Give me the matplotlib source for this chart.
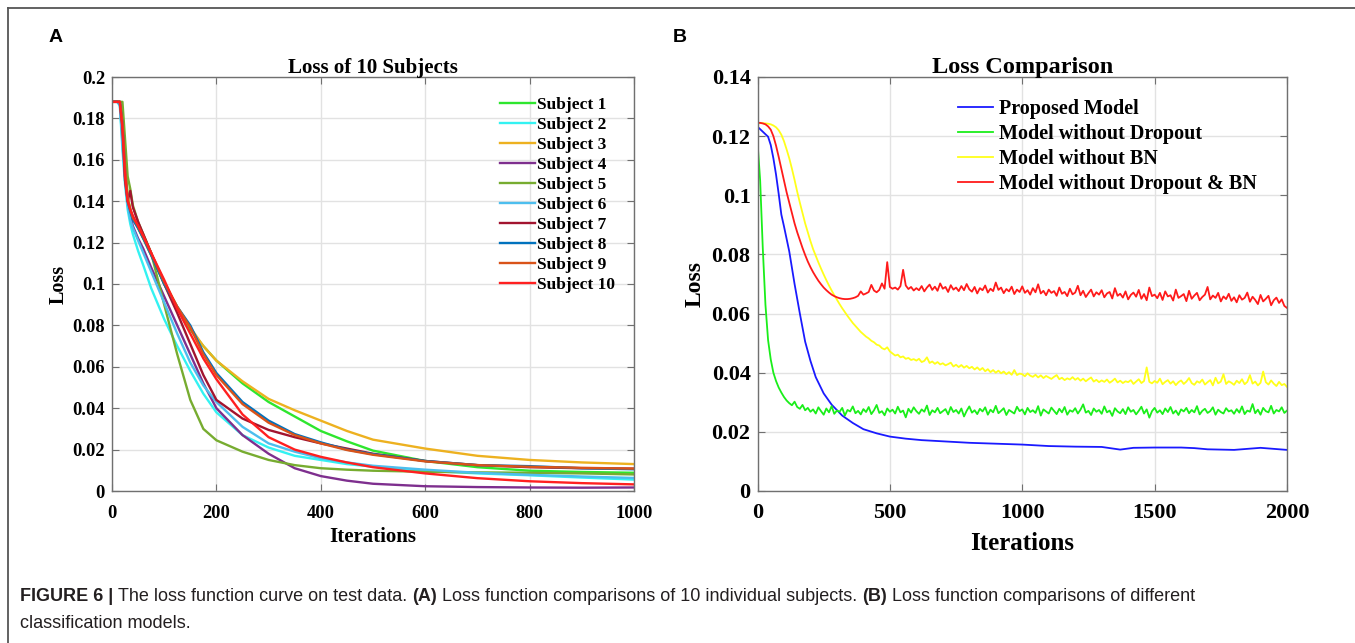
import numpy as np
import matplotlib
matplotlib.use("Agg")
import matplotlib.pyplot as plt
from matplotlib.lines import Line2D

# ---------------- panel A: loss of 10 subjects (values in 1e-4) ----------------
iters_a = [0, 10, 15, 20, 25, 30, 35, 40, 50, 60, 75, 100, 125, 150, 175, 200,
           250, 300, 350, 400, 450, 500, 600, 700, 800, 900, 1000]
subject_names = ["Subject 1", "Subject 2", "Subject 3", "Subject 4", "Subject 5",
                 "Subject 6", "Subject 7", "Subject 8", "Subject 9", "Subject 10"]
subject_losses = [
    [1880, 1880, 1880, 1800, 1600, 1420, 1360, 1320, 1270, 1220, 1140, 1000, 880, 780, 700, 630,
     520, 430, 360, 290, 240, 195, 145, 115, 98, 92, 88],
    [1880, 1880, 1860, 1650, 1480, 1360, 1290, 1240, 1160, 1090, 980, 830, 700, 580, 470, 380,
     270, 210, 170, 150, 130, 118, 98, 85, 76, 65, 55],
    [1880, 1880, 1880, 1780, 1580, 1420, 1360, 1320, 1270, 1220, 1140, 1010, 890, 790, 700, 630,
     530, 445, 390, 340, 290, 248, 205, 170, 150, 138, 130],
    [1880, 1880, 1870, 1720, 1520, 1400, 1330, 1280, 1220, 1170, 1080, 940, 800, 660, 520, 400,
     270, 180, 110, 72, 50, 35, 23, 19, 17, 16, 17],
    [1880, 1880, 1880, 1880, 1700, 1520, 1460, 1380, 1300, 1240, 1150, 900, 660, 440, 300, 245,
     190, 150, 125, 110, 103, 98, 93, 90, 88, 85, 80],
    [1880, 1880, 1870, 1680, 1500, 1380, 1310, 1270, 1210, 1150, 1060, 910, 760, 620, 510, 430,
     310, 230, 190, 158, 138, 122, 103, 88, 78, 70, 63],
    [1880, 1880, 1880, 1760, 1500, 1400, 1450, 1370, 1300, 1240, 1150, 1000, 860, 710, 560, 440,
     350, 295, 260, 230, 205, 180, 145, 125, 115, 110, 108],
    [1880, 1880, 1880, 1780, 1550, 1400, 1350, 1310, 1270, 1220, 1140, 1000, 890, 800, 670, 570,
     430, 340, 275, 235, 200, 178, 145, 125, 120, 110, 105],
    [1880, 1880, 1880, 1780, 1560, 1410, 1360, 1320, 1280, 1230, 1150, 1010, 890, 790, 660, 560,
     420, 330, 270, 230, 198, 175, 143, 125, 117, 112, 108],
    [1880, 1880, 1880, 1750, 1520, 1400, 1360, 1330, 1280, 1230, 1150, 1020, 880, 760, 640, 540,
     370, 260, 200, 165, 138, 115, 85, 62, 47, 38, 32],
]
yticks_a = [0, 0.02, 0.04, 0.06, 0.08, 0.1, 0.12, 0.14, 0.16, 0.18, 0.2]
ylabels_a = ["0", "0.02", "0.04", "0.06", "0.08", "0.1", "0.12", "0.14", "0.16", "0.18", "0.2"]
xticks_a = [0, 200, 400, 600, 800, 1000]

# ---------------- panel B: loss comparison (values in 1e-4) ----------------
iters_b = list(range(0, 2001, 10))
blue_iters = [0, 20, 40, 50, 60, 70, 80, 90, 100, 120,
              140, 160, 180, 200, 220, 250, 280, 320, 360, 400,
              450, 500, 560, 620, 700, 800, 900, 1000, 1100, 1200,
              1300, 1370, 1420, 1500, 1600, 1650, 1700, 1800, 1900, 2000]
proposed = [1232, 1215, 1198, 1170, 1125, 1070, 1005, 935, 895, 810,
            700, 600, 505, 440, 385, 330, 292, 255, 230, 209,
            195, 184, 177, 172, 168, 163, 160, 157, 152, 150,
            149, 140, 146, 147, 147, 145, 141, 139, 146, 139]
no_dropout = [
    1180, 1050, 820, 630, 510, 445, 400, 372, 350, 333, 318, 306, 297, 290, 302, 284, 278, 291, 273, 281, 268,
    276, 262, 283, 270, 258, 279, 266, 287, 261, 272, 268, 281, 255, 274, 269, 286, 263, 271, 259, 277,
    267, 284, 260, 273, 291, 264, 270, 256, 279, 268, 275, 262, 285, 266, 272, 249, 278, 265, 283, 270,
    261, 276, 268, 289, 257, 273, 266, 281, 263, 270, 277, 259, 284, 267, 274, 262, 279, 252, 271, 286,
    265, 273, 260, 278, 269, 283, 258, 275, 266, 288, 263, 271, 280, 257, 274, 268, 262, 285, 270, 276,
    259, 281, 267, 273, 264, 287, 255, 276, 269, 262, 282, 271, 260, 278, 266, 284, 258, 273, 268, 280,
    262, 275, 293, 265, 271, 257, 279, 268, 274, 261, 286, 266, 272, 254, 280, 269, 263, 277, 260, 283,
    268, 274, 259, 271, 285, 262, 276, 248, 270, 281, 265, 273, 260, 279, 267, 284, 262, 272, 257, 276,
    269, 281, 263, 274, 266, 287, 259, 271, 278, 264, 270, 283, 258, 275, 267, 262, 280, 269, 273, 261,
    277, 265, 286, 260, 272, 268, 294, 263, 275, 258, 281, 270, 266, 288, 262, 274, 269, 283, 264, 272,
]
no_bn = [
    1243, 1244, 1244, 1243, 1242, 1240, 1236, 1230, 1220, 1205,
    1183, 1155, 1125, 1090, 1052, 1012, 975, 940, 905, 875,
    845, 818, 795, 773, 752, 732, 713, 695, 678, 662,
    647, 632, 618, 605, 592, 580, 568, 558, 548, 538,
    530, 522, 516, 508, 503, 495, 492, 483, 479, 486,
    472, 465, 458, 461, 452, 455, 447, 450, 443, 446,
    441, 447, 436, 440, 452, 433, 438, 430, 436, 428,
    432, 425, 429, 434, 421, 427, 419, 426, 417, 423,
    415, 420, 411, 418, 409, 416, 405, 412, 402, 409,
    400, 407, 398, 404, 395, 402, 393, 409, 392, 397,
    395, 388, 398, 390, 386, 393, 384, 391, 382, 389,
    384, 379, 386, 392, 378, 383, 375, 381, 377, 385,
    376, 382, 373, 380, 371, 378, 384, 370, 376, 368,
    374, 369, 377, 366, 372, 380, 367, 373, 365, 371,
    368, 375, 362, 370, 378, 365, 372, 418, 369, 364,
    372, 366, 380, 361, 369, 375, 363, 371, 358, 368,
    374, 362, 370, 382, 365, 359, 371, 366, 377, 360,
    368, 375, 357, 383, 364, 370, 395, 362, 371, 366,
    359, 373, 365, 378, 361, 369, 392, 363, 370, 357,
    366, 404, 368, 360, 374, 363, 355, 369, 358, 362,
    352,
]
no_dropout_bn = [
    1245, 1245, 1243, 1240, 1233, 1222, 1200, 1168, 1130, 1090,
    1050, 1010, 975, 940, 905, 875, 848, 822, 798, 776,
    757, 740, 725, 711, 699, 688, 679, 671, 664, 659,
    655, 652, 650, 649, 649, 650, 652, 655, 660, 675,
    664, 668, 673, 697, 678, 672, 680, 702, 684, 774,
    690, 684, 688, 681, 693, 748, 695, 683, 690, 678,
    686, 679, 693, 675, 688, 698, 680, 691, 677, 702,
    684, 690, 673, 696, 681, 688, 676, 693, 679, 700,
    682, 674, 690, 668, 686, 679, 695, 671, 684, 676,
    705, 680, 688, 669, 683, 675, 691, 666, 681, 673,
    692, 670, 679, 664, 686, 672, 699, 668, 677, 662,
    681, 670, 676, 660, 688, 667, 673, 659, 684, 665,
    671, 694, 662, 677, 656, 669, 681, 658, 672, 664,
    679, 655, 668, 673, 651, 686, 660, 667, 654, 675,
    648, 663, 671, 657, 680, 650, 666, 645, 688, 659,
    664, 652, 670, 646, 675, 658, 662, 644, 681, 653,
    659, 666, 642, 677, 650, 661, 670, 645, 656, 664,
    690, 648, 661, 653, 670, 641, 658, 649, 667, 643,
    655, 638, 662, 647, 653, 671, 640, 657, 646, 632,
    663, 641, 650, 660, 628, 645, 654, 636, 648, 626,
    619,
]
model_names = ["Proposed Model", "Model without Dropout", "Model without BN",
               "Model without Dropout & BN"]
yticks_b = [0, 0.02, 0.04, 0.06, 0.08, 0.1, 0.12, 0.14]
ylabels_b = ["0", "0.02", "0.04", "0.06", "0.08", "0.1", "0.12", "0.14"]
xticks_b = [0, 500, 1000, 1500, 2000]

caption_1 = [("FIGURE 6 |", "bold"), ("The loss function curve on test data.", "normal"),
             ("(A)", "bold"), ("Loss function comparisons of 10 individual subjects.", "normal"),
             ("(B)", "bold"), ("Loss function comparisons of different", "normal")]
caption_2 = [("classification models.", "normal")]

# ---------------- styling ----------------
subject_colors = ["#2ee62e", "#33f2f2", "#edb120", "#7e2f8e", "#77ac30",
                  "#4dbeee", "#a2142f", "#0072bd", "#d95319", "#ff2020"]
model_colors = ["#1a1aff", "#1aee1a", "#ffff1a", "#ff1a1a"]

plt.rcParams['font.family'] = ['Liberation Serif', 'DejaVu Serif']
plt.rcParams['font.weight'] = 'bold'

W, H = 1355, 643
fig = plt.figure(figsize=(W / 100, H / 100), dpi=100)


def style_axes(ax, tick_size):
    ax.grid(True, color="#e2e2e2", lw=1.0)
    ax.set_axisbelow(True)
    for s in ax.spines.values():
        s.set_color("#707070")
        s.set_linewidth(1.0)
    ax.tick_params(direction="in", length=5, width=0.8, color="#707070",
                   top=True, right=True, labelsize=tick_size, labelcolor="black")


# panel A
axA = fig.add_axes([112 / W, 1 - 491 / H, 522 / W, 414 / H])
for name, color, vals in zip(subject_names, subject_colors, subject_losses):
    axA.plot(iters_a, np.array(vals) / 1e4, color=color, lw=1.7, label=name)
axA.set_xlim(0, 1000)
axA.set_ylim(0, 0.2)
axA.set_xticks(xticks_a)
axA.set_yticks(yticks_a)
axA.set_yticklabels(ylabels_a)
style_axes(axA, 13.3)
axA.tick_params(axis="x", pad=10)
axA.tick_params(axis="y", pad=5)
axA.set_title("Loss of 10 Subjects", fontsize=15, fontweight="bold", pad=3)
axA.set_xlabel("Iterations", fontsize=15, fontweight="bold", labelpad=4)
axA.set_ylabel("Loss", fontsize=14.5, fontweight="bold", labelpad=2.5)
axA.legend(loc="upper left", bbox_to_anchor=((500 - 112) / 522, (491 - 97) / 414),
           frameon=False, fontsize=12.5, handlelength=2.0, handletextpad=0.15,
           labelspacing=0.22, borderpad=0, borderaxespad=0)

# panel B
axB = fig.add_axes([757.5 / W, 1 - 491 / H, 529.5 / W, 414 / H])
axB.plot(blue_iters, np.array(proposed) / 1e4, color=model_colors[0], lw=1.3, label=model_names[0])
axB.plot(iters_b, np.array(no_dropout) / 1e4, color=model_colors[1], lw=1.3, label=model_names[1])
axB.plot(iters_b, np.array(no_bn) / 1e4, color=model_colors[2], lw=1.3, label=model_names[2])
axB.plot(iters_b, np.array(no_dropout_bn) / 1e4, color=model_colors[3], lw=1.3, label=model_names[3])
axB.set_xlim(0, 2000)
axB.set_ylim(0, 0.14)
axB.set_xticks(xticks_b)
axB.set_yticks(yticks_b)
axB.set_yticklabels(ylabels_b)
style_axes(axB, 16)
axB.tick_params(axis="x", pad=9)
axB.tick_params(axis="y", pad=5)
axB.set_title("Loss Comparison", fontsize=17.5, fontweight="bold", pad=3)
axB.set_xlabel("Iterations", fontsize=18, fontweight="bold", labelpad=6)
axB.set_ylabel("Loss", fontsize=17, fontweight="bold", labelpad=4)
axB.legend(loc="upper left", bbox_to_anchor=((958 - 757.5) / 529.5, (491 - 99) / 414),
           frameon=False, fontsize=14.5, handlelength=1.75, handletextpad=0.3,
           labelspacing=0.245, borderpad=0, borderaxespad=0)

# panel letters
fig.text(56 / W, 1 - 38 / H, "A", fontsize=14, fontweight="bold", family="Liberation Sans",
         ha="center", va="center")
fig.text(680 / W, 1 - 38 / H, "B", fontsize=14, fontweight="bold", family="Liberation Sans",
         ha="center", va="center")

# figure frame
fig.add_artist(Line2D([8 / W, 1], [1 - 8 / H, 1 - 8 / H], color="#555555", lw=1.3))
fig.add_artist(Line2D([8 / W, 8 / W], [0, 1 - 8 / H], color="#555555", lw=1.3))

# caption with mixed weights
renderer = fig.canvas.get_renderer()
cap_family = "Liberation Sans"
cap_size = 13


def text_width(s, weight):
    t = fig.text(0, 0, s, fontsize=cap_size, fontweight=weight, family=cap_family)
    w = t.get_window_extent(renderer).width
    t.remove()
    return w


gap = text_width("a a", "normal") - text_width("aa", "normal")


def caption_line(x_px, y_px, parts):
    for txt, weight in parts:
        t = fig.text(x_px / W, 1 - y_px / H, txt, fontsize=cap_size, fontweight=weight,
                     family=cap_family, color="#231f20", va="baseline")
        x_px += t.get_window_extent(renderer).width + gap


caption_line(20, 601, caption_1)
caption_line(20, 628, caption_2)

fig.savefig("out.png", dpi=100)
